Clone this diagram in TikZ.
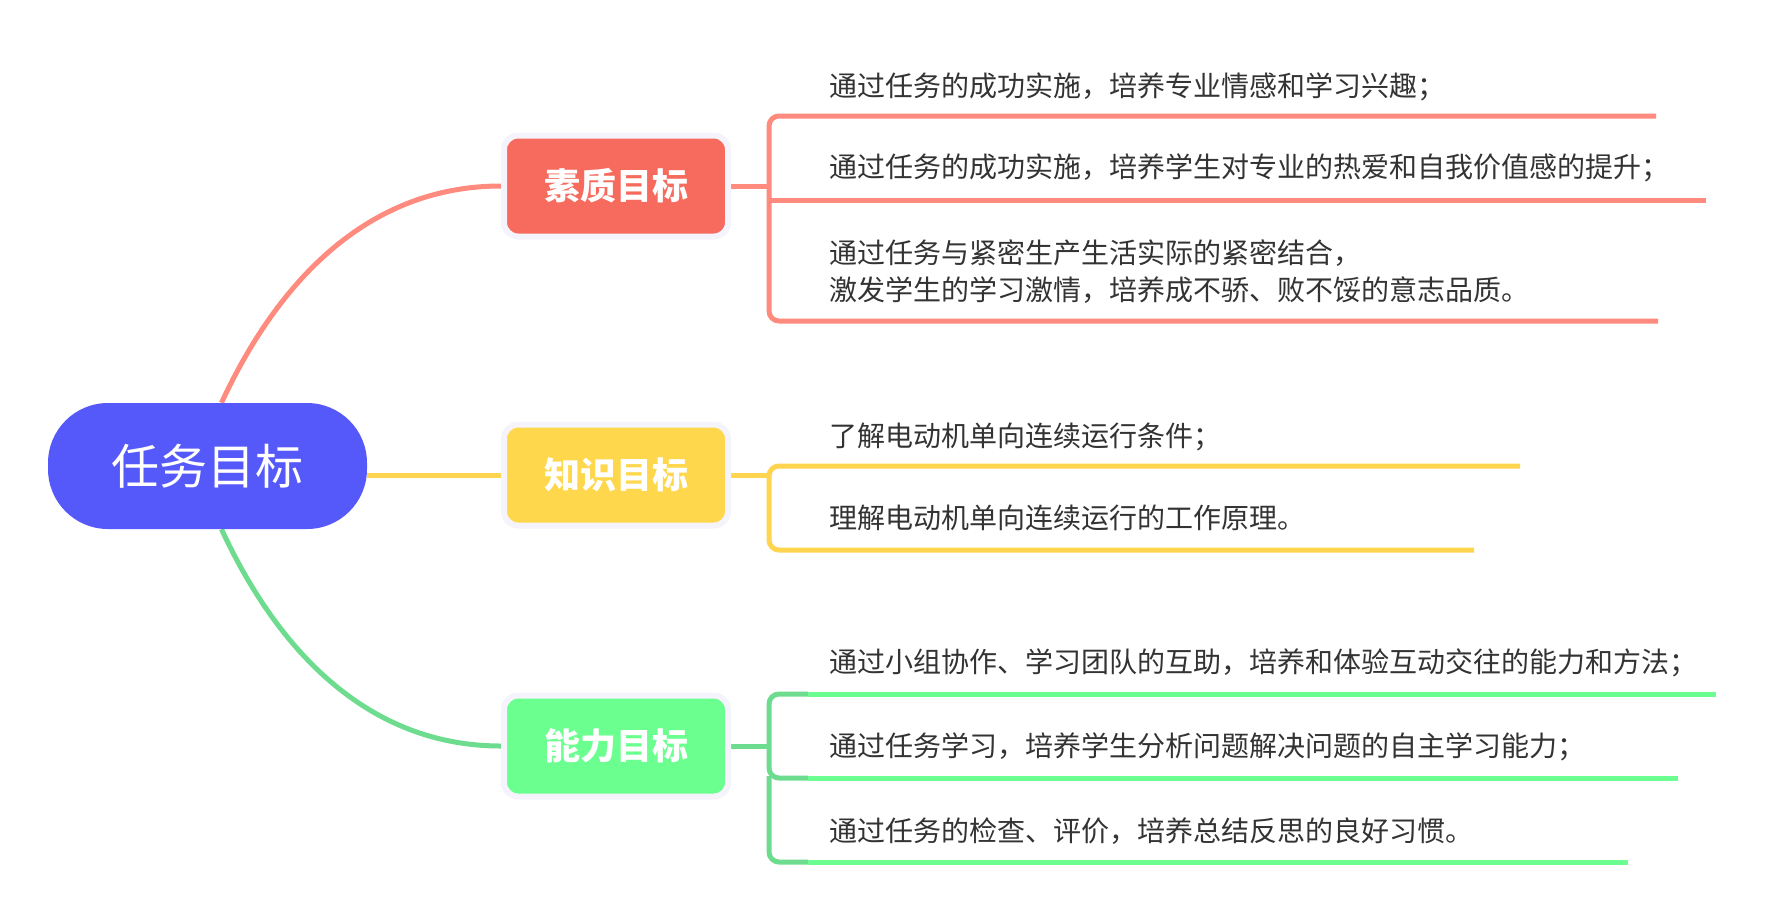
\documentclass[tikz,border=0pt]{standalone}
\usepackage{fontspec}
\newfontfamily\cjk{Noto Sans CJK SC}
\usetikzlibrary{backgrounds}
\definecolor{rootc}{HTML}{5659F9}
\definecolor{ringc}{HTML}{F5F4FC}
\definecolor{redbox}{HTML}{F66B5D}
\definecolor{redln}{HTML}{FF8A7E}
\definecolor{yelbox}{HTML}{FFD74C}
\definecolor{yelln}{HTML}{FFD54F}
\definecolor{grnbox}{HTML}{6BFF8F}
\definecolor{grnln}{HTML}{6BFD8F}
\definecolor{grndk}{HTML}{6EDC8E}
\definecolor{txtc}{HTML}{333333}
\begin{document}
\begin{tikzpicture}[x=1pt,y=-1pt,
  rootnode/.style={fill=rootc, rounded corners=60pt, minimum width=319pt, minimum height=126pt, inner sep=0pt, text=white, font=\cjk\fontsize{48}{48}\selectfont},
  goal/.style={draw=ringc, line width=6pt, rounded corners=14pt, minimum width=224pt, minimum height=101pt, inner sep=0pt, text=white, font=\cjk\bfseries\fontsize{36}{36}\selectfont},
  item/.style={anchor=west, inner sep=0pt, text=txtc, font=\cjk\fontsize{28}{37}\selectfont, align=left},
  conn/.style={line width=5pt},
  brk/.style={line width=5pt, rounded corners=10pt},
]
\useasboundingbox (0,0) rectangle (1768,914);

% main nodes
\node[rootnode] (root) at (207.5,466) {任务目标};
\node[goal, fill=redbox] (sq) at (616,186) {素质目标};
\node[goal, fill=yelbox] (kn) at (616,475) {知识目标};
\node[goal, fill=grnbox] (ab) at (616,746) {能力目标};

% bracket junctions
\coordinate (sqj) at (769,186);
\coordinate (knj) at (769,475);
\coordinate (abj) at (769,746);

% items
\node[item] (s1) at (829,87) {通过任务的成功实施，培养专业情感和学习兴趣；};
\node[item] (s2) at (829,168) {通过任务的成功实施，培养学生对专业的热爱和自我价值感的提升；};
\node[item] (s3) at (829,271.5) {通过任务与紧密生产生活实际的紧密结合，\\激发学生的学习激情，培养成不骄、败不馁的意志品质。};
\node[item] (k1) at (829,437) {了解电动机单向连续运行条件；};
\node[item] (k2) at (829,518) {理解电动机单向连续运行的工作原理。};
\node[item] (a1) at (829,663) {通过小组协作、学习团队的互助，培养和体验互动交往的能力和方法；};
\node[item] (a2) at (829,747) {通过任务学习，培养学生分析问题解决问题的自主学习能力；};
\node[item] (a3) at (829,831) {通过任务的检查、评价，培养总结反思的良好习惯。};

\begin{scope}[on background layer]
\fill[white] (0,0) rectangle (1768,914);
% root connectors
\draw[conn, redln] ([xshift=14pt]root.north) .. controls +(43,-93) and +(-152,0) .. (sq.west);
\draw[conn, yelln] (root.east |- kn.west) -- (kn.west);
\draw[conn, grndk] ([xshift=14pt]root.south) .. controls +(43,93) and +(-152,0) .. (ab.west);
% goal to bracket
\draw[conn, redln] (sq.east) -- (sqj);
\draw[conn, yelln] (kn.east) -- (knj);
\draw[conn, grndk] (ab.east) -- (abj);
\end{scope}

% red bracket
\draw[brk, redln] (1656,116) -- (769,116) -- (769,321) -- (1658,321);
\draw[conn, redln] (769,200) -- (1706,200);
% yellow bracket
\draw[brk, yelln] (1520,466) -- (769,466) -- (769,550) -- (1474,550);
% green bracket
\draw[brk, grndk] (808,694) -- (769,694) -- (769,778) -- (808,778);
\draw[brk, grndk] (769,776) -- (769,862) -- (808,862);
\draw[conn, grnln] (808,694) -- (1716,694);
\draw[conn, grnln] (808,778) -- (1678,778);
\draw[conn, grnln] (808,862) -- (1628,862);
\end{tikzpicture}
\end{document}
